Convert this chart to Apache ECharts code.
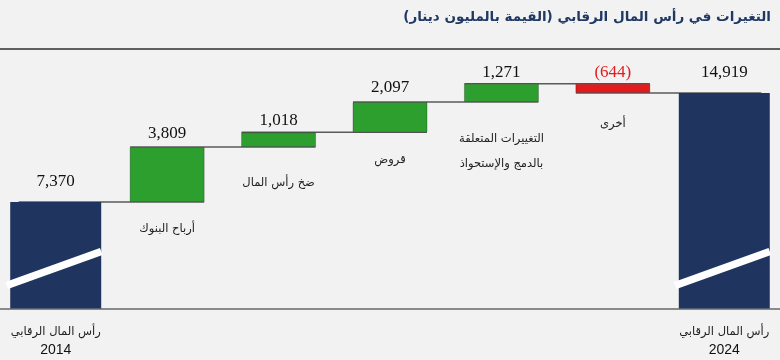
<!DOCTYPE html>
<html>
<head>
<meta charset="utf-8">
<script src="https://cdn.jsdelivr.net/npm/echarts@6/dist/echarts.min.js"></script>
<style>
html,body{margin:0;padding:0;background:#f2f2f2;}
#chart{width:780px;height:360px;}
</style>
</head>
<body>
<div id="chart"></div>
<script>
// ---- data ----
const titleText = 'التغيرات في رأس المال الرقابي (القيمة بالمليون دينار)';
const categories = [
  'رأس المال الرقابي\n2014',
  'أرباح البنوك',
  'ضخ رأس المال',
  'قروض',
  'التغييرات المتعلقة\nبالدمج والإستحواذ',
  'أخرى',
  'رأس المال الرقابي\n2024'
];
const startTotal = 7370;
const endTotal = 14919;
const changes = [3809, 1018, 2097, 1271, -644];
const yMax = 18000;

// ---- derived ----
const n = categories.length;
const totalsData = categories.map((c, i) => i === 0 ? startTotal : (i === n - 1 ? endTotal : '-'));
const baseData = [];
const changeData = [];
const levels = [startTotal];
let running = startTotal;
changes.forEach(v => {
  const next = running + v;
  baseData.push(Math.min(running, next));
  changeData.push(Math.abs(v));
  running = next;
  levels.push(next);
});
levels.push(endTotal);
const baseSeries = ['-'].concat(baseData, ['-']);
const changeSeries = ['-'].concat(changeData.map((v, i) => ({
  value: v,
  itemStyle: { color: changes[i] < 0 ? '#e31b1c' : '#2c9f2f' }
})), ['-']);

function fmt(v) {
  const s = Math.abs(v).toLocaleString('en-US');
  return v < 0 ? '(' + s + ')' : s;
}

// label layout tweaks (style only)
const valueGap = [12, 5, 3.5, 6, 2.5, 2.5, 12];
const catGap = [0, 14, 23, 15, 24, 19, 0];

const chart = echarts.init(document.getElementById('chart'), null, { renderer: 'canvas' });
const serif = '"Liberation Serif", "Times New Roman", serif';
const sans = '"DejaVu Sans", "Noto Sans", sans-serif';
const latin = '"Liberation Sans", Arial, sans-serif';

chart.setOption({
  backgroundColor: '#f2f2f2',
  animation: false,
  title: {
    text: titleText,
    right: 4,
    top: 5,
    textStyle: { color: '#1f3864', fontSize: 13.5, fontWeight: 'bold', fontFamily: sans }
  },
  grid: { left: 0, right: -4, top: 48.5, bottom: 51.5 },
  xAxis: [
    {
      type: 'category',
      data: categories,
      axisTick: { show: false },
      axisLine: { lineStyle: { color: '#8a8a8a', width: 2 } },
      axisLabel: {
        interval: 0,
        margin: 14,
        formatter: (v, i) => {
          if (i !== 0 && i !== n - 1) return '';
          const parts = v.split('\n');
          return '{a|' + parts[0] + '}\n{b|' + parts[1] + '}';
        },
        rich: {
          a: { fontFamily: sans, fontSize: 11.5, color: '#222', lineHeight: 19 },
          b: { fontFamily: latin, fontSize: 14, color: '#111', lineHeight: 17 }
        }
      }
    },
    {
      type: 'category',
      data: categories,
      show: false
    }
  ],
  yAxis: {
    type: 'value',
    min: 0,
    max: yMax,
    interval: yMax,
    axisLabel: { show: false },
    axisLine: { show: false },
    axisTick: { show: false },
    splitLine: { show: true, lineStyle: { color: '#5f5f5f', width: 2 } }
  },
  series: [
    {
      name: 'connector',
      type: 'custom',
      xAxisIndex: 0,
      z: 1,
      silent: true,
      data: levels.map((v, i) => [i, v]),
      renderItem: (params, api) => {
        const i = api.value(0);
        if (i >= n - 1) return null;
        const a = api.coord([i, api.value(1)]);
        const b = api.coord([i + 1, api.value(1)]);
        return {
          type: 'line',
          shape: { x1: a[0] - 37, y1: a[1], x2: b[0] + 37, y2: a[1] },
          style: { stroke: '#5a5a5a', lineWidth: 1.5 }
        };
      }
    },
    {
      name: 'totals',
      type: 'bar',
      xAxisIndex: 0,
      data: totalsData,
      barWidth: 91,
      z: 3,
      itemStyle: { color: '#1f355f' },
      label: {
        show: true,
        position: 'top',
        fontFamily: serif,
        fontSize: 17,
        color: '#111',
        distance: 12,
        formatter: p => fmt(p.value)
      }
    },
    {
      name: 'base',
      type: 'bar',
      xAxisIndex: 1,
      stack: 'wf',
      data: baseSeries.map((v, i) => v === '-' ? '-' : {
        value: v,
        label: { distance: catGap[i] }
      }),
      barWidth: 75,
      z: 3,
      itemStyle: { color: 'transparent' },
      label: {
        show: true,
        position: 'insideTop',
        fontFamily: sans,
        fontSize: 11.5,
        color: '#222',
        lineHeight: 25,
        formatter: p => categories[p.dataIndex]
      }
    },
    {
      name: 'change',
      type: 'bar',
      xAxisIndex: 1,
      stack: 'wf',
      data: changeSeries.map((d, i) => d === '-' ? '-' : Object.assign({}, d, {
        label: { distance: valueGap[i], color: changes[i - 1] < 0 ? '#e31b1c' : '#111' }
      })),
      barWidth: 75,
      z: 3,
      itemStyle: { borderColor: 'rgba(0,0,0,0.25)', borderWidth: 1 },
      label: {
        show: true,
        position: 'top',
        fontFamily: serif,
        fontSize: 17,
        formatter: p => fmt(changes[p.dataIndex - 1])
      }
    },
    {
      name: 'breakMark',
      type: 'custom',
      xAxisIndex: 0,
      z: 4,
      silent: true,
      data: totalsData.map((v, i) => v === '-' ? null : [i, v]).filter(d => d),
      renderItem: (params, api) => {
        const p = api.coord([api.value(0), 0]);
        return {
          type: 'line',
          shape: { x1: p[0] - 49, y1: p[1] - 23, x2: p[0] + 45.5, y2: p[1] - 57 },
          style: { stroke: '#ffffff', lineWidth: 7.5 }
        };
      }
    }
  ]
});
</script>
</body>
</html>
